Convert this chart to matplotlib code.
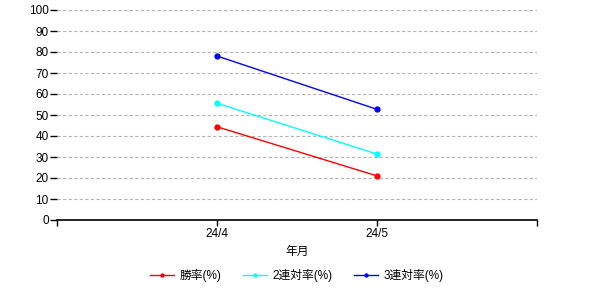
import matplotlib
matplotlib.use("Agg")
import matplotlib.pyplot as plt

plt.rcParams['font.family'] = ['Liberation Sans', 'Noto Sans CJK JP']

categories = ["24/4", "24/5"]
series_names = ["勝率(%)", "2連対率(%)", "3連対率(%)"]
win_rate = [44.4, 21.0]
top2_rate = [55.6, 31.4]
top3_rate = [78.1, 52.7]
colors = ["#ff0000", "#00ffff", "#0000ff"]
yticks = list(range(0, 101, 10))

fig = plt.figure(figsize=(6, 3), dpi=100)
ax = fig.add_axes([57/600, 1-220/300, 480/600, 210/300])

x = [1, 2]
for vals, name, c in zip([win_rate, top2_rate, top3_rate], series_names, colors):
    ax.plot(x, vals, color=c, lw=1, marker='o', ms=3.5, label=name)

ax.set_xlim(0, 3)
ax.set_ylim(0, 100)
ax.set_yticks(yticks)
ax.set_xticks([0, 1, 2, 3])
ax.set_xticklabels(["", categories[0], categories[1], ""])
for s in ['top', 'right', 'left']:
    ax.spines[s].set_visible(False)
ax.spines['bottom'].set_linewidth(1.2)
ax.yaxis.grid(True, color='#b4b4b4', linestyle=(0, (3, 2)), lw=0.8)
ax.set_axisbelow(True)
ax.tick_params(axis='y', length=5, width=1, labelsize=8.5, pad=1)
ax.tick_params(axis='x', length=4, width=1, labelsize=8.5, pad=2)
ax.set_xlabel("年月", fontsize=8.5, labelpad=4)

fig.legend(loc='center', bbox_to_anchor=(297/600, 1-276/300), ncol=3, frameon=False,
           fontsize=8.5, handlelength=2.0, columnspacing=1.8, handletextpad=0.5, markerscale=0.6)

fig.savefig("out.png", dpi=100)
